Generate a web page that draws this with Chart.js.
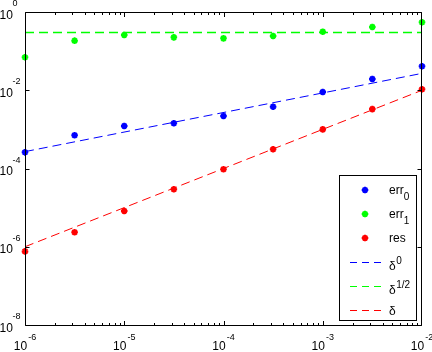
<!DOCTYPE html>
<html>
<head>
<meta charset="utf-8">
<script src="https://cdn.jsdelivr.net/npm/chart.js@4/dist/chart.umd.min.js"></script>
<style>
  body { margin: 0; background: #fff; }
</style>
</head>
<body>
<canvas id="myChart" width="432" height="352"></canvas>
<script>
// step sizes delta (x) and measured quantities (y)
const deltas = [1e-6, 3.16e-6, 1e-5, 3.16e-5, 1e-4, 3.16e-4, 1e-3, 3.16e-3, 1e-2];
const err0 = [2.59e-4, 7.05e-4, 1.22e-3, 1.43e-3, 2.2e-3, 3.8e-3, 9.0e-3, 1.94e-2, 4.09e-2];
const err1 = [0.0695, 0.185, 0.258, 0.225, 0.212, 0.244, 0.314, 0.414, 0.546];
const res = [7.6e-7, 2.34e-6, 8.2e-6, 2.94e-5, 9.55e-5, 3.1e-4, 1.0e-3, 3.3e-3, 1.06e-2];

// reference lines, given at the two ends of the x range
const lineX = [1e-6, 1e-2];
const blueLine = [2.7e-4, 2.7e-2];
const greenLine = [0.3, 0.3];
const redLine = [1e-6, 1e-2];

const labels = ['err_0', 'err_1', 'res', 'δ^0', 'δ^1/2', 'δ'];
const xTickExp = [-6, -5, -4, -3, -2];
const yTickExp = [0, -2, -4, -6, -8];

const FONT = '"Liberation Sans", Arial, sans-serif';
const colors = ['#0000ff', '#00ff00', '#ff0000'];

const pts = (xs, ys) => xs.map((x, i) => ({x: x, y: ys[i]}));

const markerSet = (label, values, color) => ({
    label: label,
    data: pts(deltas, values),
    showLine: false,
    pointStyle: 'star',
    pointRadius: 3.3,
    pointBorderWidth: 2,
    borderColor: color,
    backgroundColor: color,
    clip: false
});

const lineSet = (label, values, color, width) => ({
    label: label,
    data: pts(lineX, values),
    showLine: true,
    pointRadius: 0,
    borderColor: color,
    borderWidth: width,
    borderDash: [9, 5],
    fill: false,
    clip: false
});

function drawStar(c, x, y, r) {
    c.beginPath();
    for (let k = 0; k < 4; k++) {
        const ang = k * Math.PI / 4;
        c.moveTo(x - r * Math.cos(ang), y - r * Math.sin(ang));
        c.lineTo(x + r * Math.cos(ang), y + r * Math.sin(ang));
    }
    c.stroke();
}

// box, inward ticks, exponent labels and the legend
const axisPlugin = {
    id: 'axisBox',
    afterDraw(chart) {
        const c = chart.ctx;
        const a = chart.chartArea;
        const xs = chart.scales.x, ys = chart.scales.y;
        const L = a.left + 0.5, R = a.right - 0.5, T = a.top + 0.5, B = a.bottom + 0.5;
        c.save();
        c.strokeStyle = '#000';
        c.lineWidth = 1;
        c.setLineDash([]);
        c.beginPath();
        c.moveTo(L, T); c.lineTo(R, T); c.lineTo(R, B); c.lineTo(L, B); c.closePath();
        xTickExp.forEach(e => {
            for (let m = 1; m <= 9; m++) {
                const v = m * Math.pow(10, e);
                if (v > xs.max * 1.0001) break;
                const px = Math.min(Math.round(xs.getPixelForValue(v)) + 0.5, R);
                const len = m === 1 ? 4.5 : 2.5;
                c.moveTo(px, B); c.lineTo(px, B - len);
                c.moveTo(px, T); c.lineTo(px, T + len);
            }
        });
        yTickExp.forEach(e => {
            const py = Math.min(Math.round(ys.getPixelForValue(Math.pow(10, e))) + 0.5, B);
            c.moveTo(L, py); c.lineTo(L + 4, py);
            c.moveTo(R, py); c.lineTo(R - 4, py);
        });
        c.stroke();

        c.fillStyle = '#000';
        c.textBaseline = 'alphabetic';
        c.textAlign = 'left';
        xTickExp.forEach(e => {
            const px = xs.getPixelForValue(Math.pow(10, e));
            c.font = '12px ' + FONT;
            const w1 = c.measureText('10').width;
            c.font = '9px ' + FONT;
            const w2 = c.measureText(String(e)).width;
            const x0 = px - (w1 + 1 + w2) / 2;
            c.font = '12px ' + FONT;
            c.fillText('10', x0, 350);
            c.font = '9px ' + FONT;
            c.fillText(String(e), x0 + w1 + 1, 340);
        });
        yTickExp.forEach(e => {
            const py = ys.getPixelForValue(Math.pow(10, e));
            c.font = '12px ' + FONT;
            c.fillText('10', -0.5, py + 6.5);
            c.font = '9px ' + FONT;
            c.fillText(String(e), 12.5, py - 6);
        });

        // legend
        const lx = 339.5, ly = 175.5, lw = 77, lh = 145;
        c.fillStyle = '#fff';
        c.fillRect(lx, ly, lw, lh);
        c.strokeStyle = '#000';
        c.strokeRect(lx, ly, lw, lh);
        chart.data.datasets.forEach((ds, i) => {
            const ry = 190 + 24 * i;
            c.strokeStyle = ds.borderColor;
            if (ds.showLine) {
                c.lineWidth = 1;
                c.setLineDash([7, 5]);
                c.beginPath();
                c.moveTo(350, Math.round(ry) + 0.5);
                c.lineTo(386, Math.round(ry) + 0.5);
                c.stroke();
                c.setLineDash([]);
            } else {
                c.lineWidth = 2;
                drawStar(c, 365, ry, 3.3);
            }
            c.fillStyle = '#000';
            const lab = ds.label;
            let base = lab, sub = '', sup = '';
            if (lab.includes('_')) { [base, sub] = lab.split('_'); }
            if (lab.includes('^')) { [base, sup] = lab.split('^'); }
            c.font = '12px ' + FONT;
            const bw = c.measureText(base).width;
            const by = (sup || base === 'δ') ? ry + (sup ? 8 : 4.5) : ry + 3.5;
            c.fillText(base, 389, by);
            c.font = '10px ' + FONT;
            if (sub) c.fillText(sub, 389 + bw, ry + 9.5);
            if (sup) c.fillText(sup, 389 + bw + 0.5, ry + 2);
        });
        c.restore();
    }
};

const ctx = document.getElementById('myChart');

new Chart(ctx, {
    type: 'line',
    data: {
        datasets: [
            markerSet(labels[0], err0, colors[0]),
            markerSet(labels[1], err1, colors[1]),
            markerSet(labels[2], res, colors[2]),
            lineSet(labels[3], blueLine, colors[0], 1),
            lineSet(labels[4], greenLine, colors[1], 1.5),
            lineSet(labels[5], redLine, colors[2], 1)
        ]
    },
    options: {
        responsive: false,
        animation: false,
        devicePixelRatio: 1,
        layout: { padding: { left: 25, right: 10, top: 12, bottom: 27 } },
        scales: {
            x: { type: 'logarithmic', min: 1e-6, max: 1e-2, display: false },
            y: { type: 'logarithmic', min: 1e-8, max: 1, display: false }
        },
        plugins: {
            legend: { display: false },
            tooltip: { enabled: false }
        }
    },
    plugins: [axisPlugin]
});
</script>
</body>
</html>
